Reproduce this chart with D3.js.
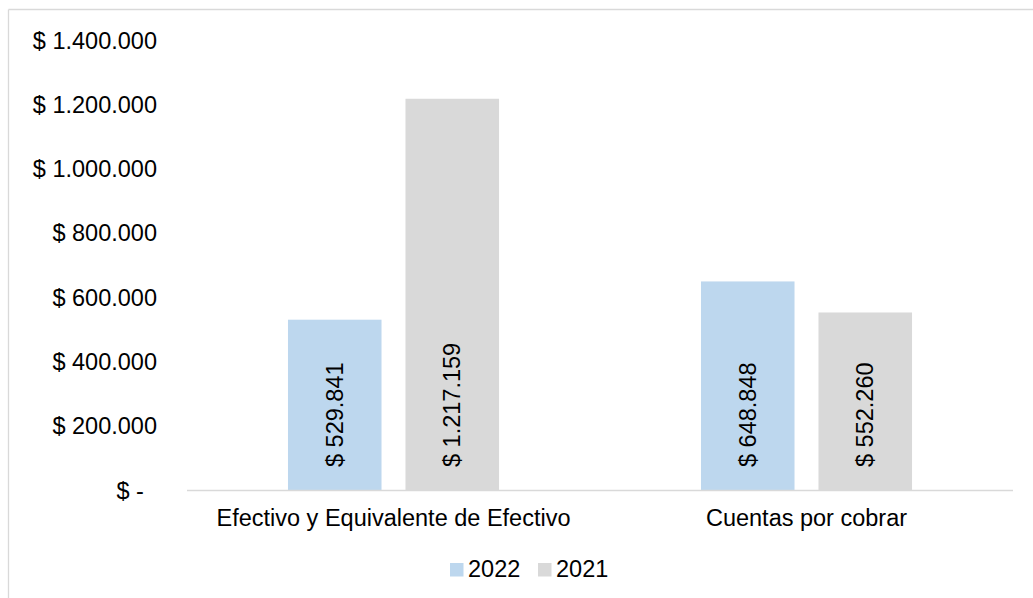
<!DOCTYPE html>
<html>
<head>
<meta charset="utf-8">
<script src="https://cdn.jsdelivr.net/npm/d3@7"></script>
<style>
  html, body { margin: 0; padding: 0; background: #fff; }
  svg text { font-family: "Liberation Sans", Arial, sans-serif; fill: #000; }
</style>
</head>
<body>
<svg id="chart" width="1033" height="598"></svg>
<script>
const categories = ["Efectivo y Equivalente de Efectivo", "Cuentas por cobrar"];
const seriesNames = ["2022", "2021"];
const values2022 = [529841, 648848];
const values2021 = [1217159, 552260];
const tickValues = [0, 200000, 400000, 600000, 800000, 1000000, 1200000, 1400000];
const tickLabels = ["$ -  ", "$ 200.000", "$ 400.000", "$ 600.000", "$ 800.000", "$ 1.000.000", "$ 1.200.000", "$ 1.400.000"];
const valueLabels2022 = ["$ 529.841", "$ 648.848"];
const valueLabels2021 = ["$ 1.217.159", "$ 552.260"];
const colors = ["#bdd7ee", "#d9d9d9"];

const svg = d3.select("#chart");
const FS = 23.5;

// chart border (left and top visible)
svg.append("line").attr("x1", 8.5).attr("x2", 8.5).attr("y1", 9.5).attr("y2", 598)
  .attr("stroke", "#d9d9d9").attr("stroke-width", 1.3);
svg.append("line").attr("x1", 8.5).attr("x2", 1033).attr("y1", 9.5).attr("y2", 9.5)
  .attr("stroke", "#d9d9d9").attr("stroke-width", 1.3);

const x0 = d3.scaleBand().domain(categories).range([187, 1013]).paddingInner(0.489).paddingOuter(0.2445);
const x1 = d3.scaleBand().domain(seriesNames).range([0, x0.bandwidth()]).paddingInner(0.204).paddingOuter(0);
const y = d3.scaleLinear().domain([0, 1400000]).range([490, 40]);

// y axis labels
const yAxis = d3.axisLeft(y).tickValues(tickValues).tickSize(0).tickPadding(3)
  .tickFormat((d, i) => tickLabels[i]);
const gy = svg.append("g").attr("transform", "translate(160,0)").call(yAxis);
gy.select(".domain").remove();
gy.selectAll("text").attr("font-size", FS).attr("font-family", '"Liberation Sans", Arial, sans-serif')
  .attr("fill", "#000").style("white-space", "pre").attr("dy", "0.34em");

const data = categories.map((c, i) => ({
  cat: c,
  vals: [
    { s: seriesNames[0], v: values2022[i], label: valueLabels2022[i], color: colors[0] },
    { s: seriesNames[1], v: values2021[i], label: valueLabels2021[i], color: colors[1] }
  ]
}));

const groups = svg.append("g").selectAll("g").data(data).join("g")
  .attr("transform", d => `translate(${x0(d.cat)},0)`);

groups.selectAll("rect").data(d => d.vals).join("rect")
  .attr("x", d => x1(d.s))
  .attr("width", x1.bandwidth())
  .attr("y", d => y(d.v))
  .attr("height", d => y(0) - y(d.v))
  .attr("fill", d => d.color);

groups.selectAll("text.vl").data(d => d.vals).join("text")
  .attr("class", "vl")
  .attr("transform", d => `translate(${x1(d.s) + x1.bandwidth() / 2},467) rotate(-90)`)
  .attr("dy", "0.35em")
  .attr("text-anchor", "start")
  .attr("font-size", FS)
  .text(d => d.label);

// baseline
svg.append("line").attr("x1", 187).attr("x2", 1013).attr("y1", y(0) + 0.5).attr("y2", y(0) + 0.5)
  .attr("stroke", "#d9d9d9").attr("stroke-width", 1.3);

// x axis labels
const xAxis = d3.axisBottom(x0).tickSize(0).tickPadding(19);
const gx = svg.append("g").attr("transform", `translate(0,${y(0)})`).call(xAxis);
gx.select(".domain").remove();
gx.selectAll("text").attr("font-size", FS).attr("font-family", '"Liberation Sans", Arial, sans-serif')
  .attr("fill", "#000").attr("dy", "0.71em");

// legend
const legendItems = [
  { name: seriesNames[0], color: colors[0], x: 450 },
  { name: seriesNames[1], color: colors[1], x: 538 }
];
const lg = svg.append("g").selectAll("g").data(legendItems).join("g")
  .attr("transform", d => `translate(${d.x},0)`);
lg.append("rect").attr("x", 0).attr("y", 563).attr("width", 13.5).attr("height", 13.5).attr("fill", d => d.color);
lg.append("text").attr("x", 18).attr("y", 577).attr("font-size", FS).text(d => d.name);
</script>
</body>
</html>
